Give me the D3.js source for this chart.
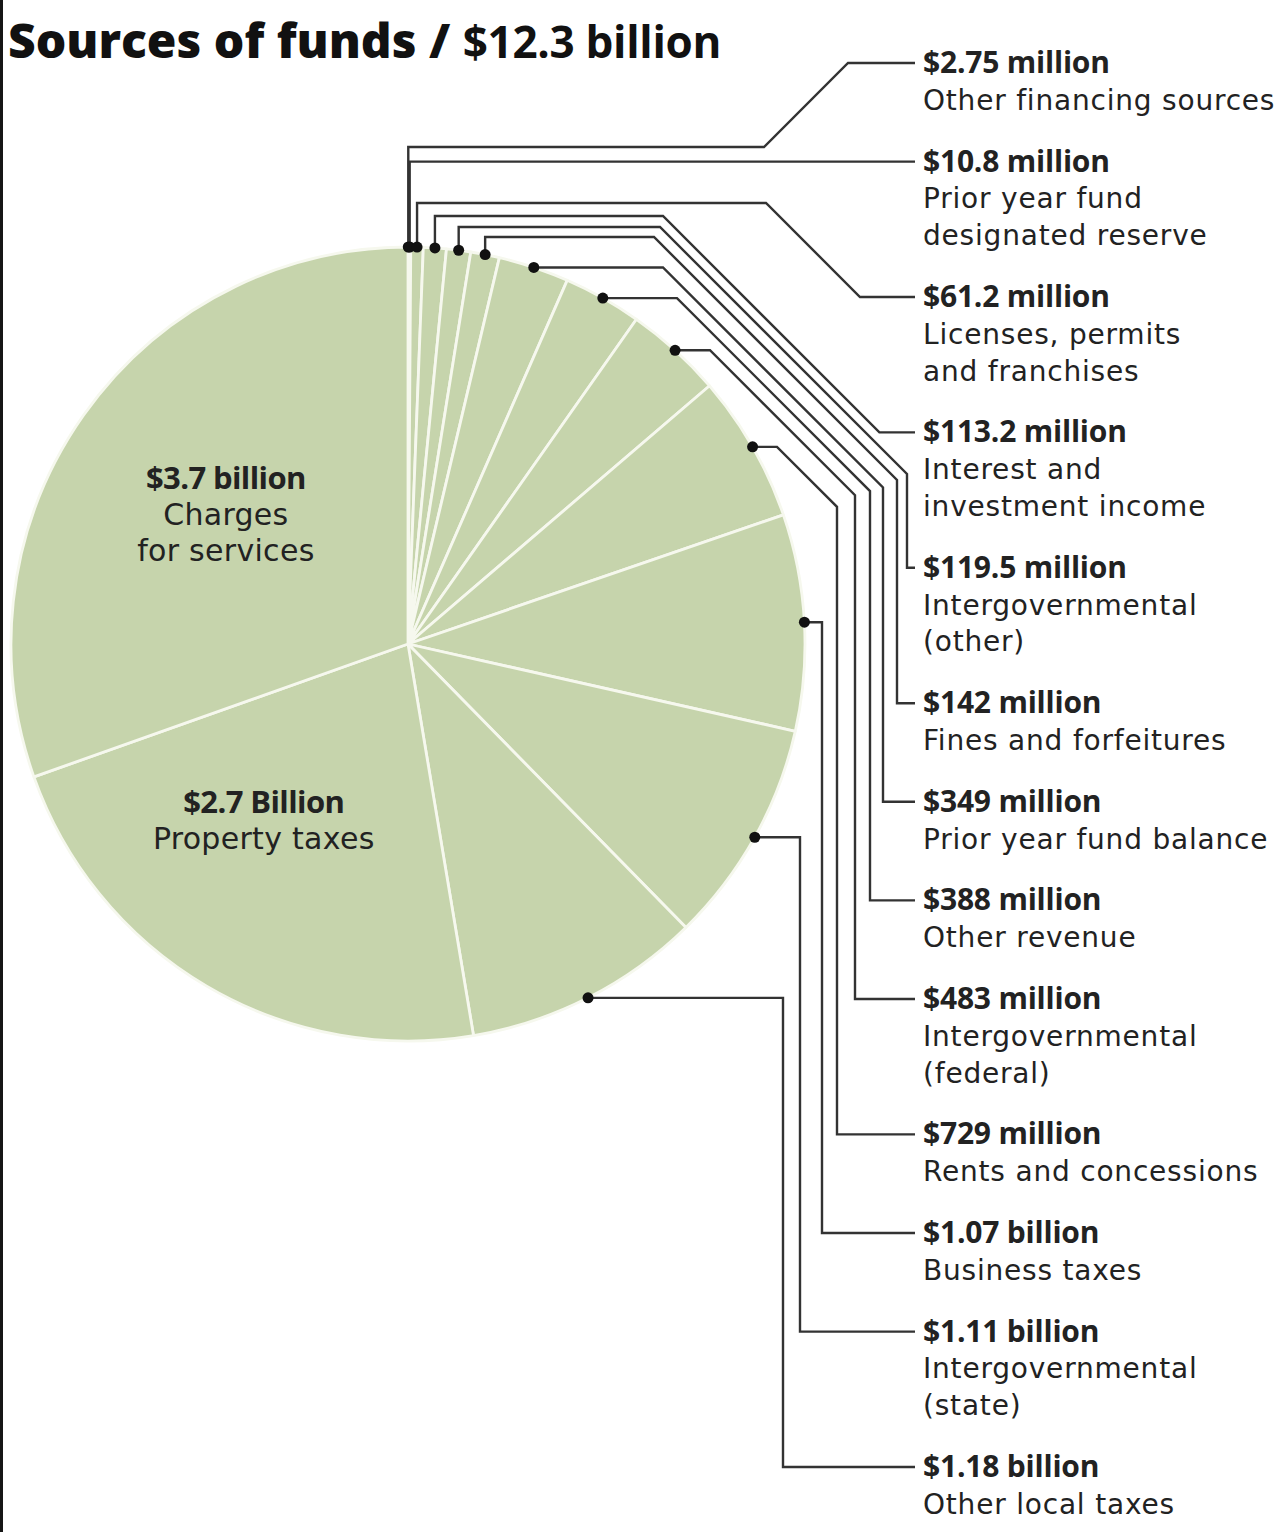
<!DOCTYPE html>
<html>
<head>
<meta charset="utf-8">
<script src="https://cdn.jsdelivr.net/npm/d3@7"></script>
<style>
  body { margin: 0; background: #fff; }
  svg { display: block; }
</style>
</head>
<body>
<div id="chart"></div>
<script>
// values in millions of dollars, clockwise from 12 o'clock
const categories = [
  "Other financing sources", "Prior year fund designated reserve", "Licenses, permits and franchises",
  "Interest and investment income", "Intergovernmental (other)", "Fines and forfeitures",
  "Prior year fund balance", "Other revenue", "Intergovernmental (federal)", "Rents and concessions",
  "Business taxes", "Intergovernmental (state)", "Other local taxes", "Property taxes", "Charges for services"
];
const values = [2.75, 10.8, 61.2, 113.2, 119.5, 142, 349, 388, 483, 729, 1070, 1110, 1180, 2700, 3700];
const valueLabels = [
  "$2.75 million", "$10.8 million", "$61.2 million", "$113.2 million", "$119.5 million",
  "$142 million", "$349 million", "$388 million", "$483 million", "$729 million",
  "$1.07 billion", "$1.11 billion", "$1.18 billion", "$2.7 Billion", "$3.7 billion"
];
const descLines = [
  ["Other financing sources"], ["Prior year fund", "designated reserve"], ["Licenses, permits", "and franchises"],
  ["Interest and", "investment income"], ["Intergovernmental", "(other)"], ["Fines and forfeitures"],
  ["Prior year fund balance"], ["Other revenue"], ["Intergovernmental", "(federal)"], ["Rents and concessions"],
  ["Business taxes"], ["Intergovernmental", "(state)"], ["Other local taxes"], ["Property taxes"], ["Charges", "for services"]
];
const insideCount = 2; // last two slices are labelled inside the pie
const titleBold = "Sources of funds /";
const titleRest = "$12.3 billion";

// leader routing: optional row above the pie, x where the 45° run starts, column of the vertical run
const leaderLayout = [
  {row: 147, turn: 764}, {row: "label"}, {row: 203, turn: 766},
  {row: 216, turn: 663}, {row: 227, turn: 660, col: 907}, {row: 237, turn: 654, col: 897},
  {turn: 663, col: 883}, {turn: 677, col: 870}, {turn: 710, col: 855}, {turn: 777, col: 837},
  {turn: 822, col: 822}, {turn: 800, col: 800}, {turn: 783, col: 783}
];
// nudges for the two inside labels (property taxes, charges for services)
const insideOffsets = [[-20, -34], [18, 12]];

const width = 1283, height = 1532;
const cx = 408, cy = 644, radius = 397;
const labelX = 923, lineEndX = 915;
const firstBaseline = 73, lineH = 36.8, blockGap = 25;
const ink = "#222", lineColor = "#333", fill = "#c6d4ac";
const regular = "'DejaVu Sans', sans-serif";
const boldFont = "'Open Sans', sans-serif";

const svg = d3.select("#chart").append("svg")
  .attr("width", width).attr("height", height);

svg.append("rect").attr("width", width).attr("height", height).attr("fill", "#fff");
svg.append("rect").attr("x", 0).attr("y", 0).attr("width", 3).attr("height", height).attr("fill", "#151515");

// title
const title = svg.append("text")
  .attr("x", 8).attr("y", 58)
  .attr("font-family", boldFont).attr("fill", "#111");
title.append("tspan").attr("font-weight", 800).attr("font-size", 48).attr("letter-spacing", 0).text(titleBold + " ");
title.append("tspan").attr("font-weight", 700).attr("font-size", 44).attr("letter-spacing", -0.3).text(titleRest);

const data = categories.map((c, i) => ({name: c, value: values[i], label: valueLabels[i], desc: descLines[i]}));

const pie = d3.pie().sort(null).value(d => d.value).startAngle(0).endAngle(2 * Math.PI);
const arcs = pie(data);
const arc = d3.arc().innerRadius(0).outerRadius(radius);

const g = svg.append("g").attr("transform", `translate(${cx},${cy})`);
g.selectAll("path.slice")
  .data(arcs)
  .join("path")
  .attr("class", "slice")
  .attr("d", arc)
  .attr("fill", fill)
  .attr("stroke", "#f6f8ee")
  .attr("stroke-width", 2.8)
  .attr("stroke-linejoin", "round");

// inside labels
const labelArc = d3.arc().innerRadius(245).outerRadius(245);
const inside = arcs.slice(arcs.length - insideCount);
inside.forEach((a, k) => {
  const [x, y] = labelArc.centroid(a);
  const off = insideOffsets[k];
  const n = 1 + a.data.desc.length;
  const top = y + off[1] - (n - 1) * 36 / 2 + 10;
  const t = g.append("text")
    .attr("text-anchor", "middle")
    .attr("fill", ink);
  t.append("tspan").attr("x", x + off[0]).attr("y", top)
    .attr("font-family", boldFont).attr("font-weight", 700).attr("font-size", 31).attr("letter-spacing", -0.6)
    .text(a.data.label);
  a.data.desc.forEach((line, j) => {
    t.append("tspan").attr("x", x + off[0]).attr("y", top + 36 * (j + 1))
      .attr("font-family", regular).attr("font-size", 30).attr("letter-spacing", 0.3)
      .text(line);
  });
});

// outside labels and leaders
const outside = arcs.slice(0, arcs.length - insideCount);
let baseline = firstBaseline;
const baselines = outside.map(a => {
  const b = baseline;
  baseline += (1 + a.data.desc.length) * lineH + blockGap;
  return b;
});

const lineGen = d3.line();
outside.forEach((a, i) => {
  const mid = (a.startAngle + a.endAngle) / 2;
  const dx = cx + radius * Math.sin(mid);
  const dy = cy - radius * Math.cos(mid);
  const ly = baselines[i] - 10;
  const L = leaderLayout[i];
  const pts = [[dx, dy]];
  let ry = dy;
  if (L.row === "label") {
    pts.push([dx, ly]);
    ry = ly;
  } else if (L.row != null) {
    pts.push([dx, L.row]);
    ry = L.row;
  }
  if (L.turn != null) {
    pts.push([L.turn, ry]);
    if (L.col != null) {
      const yy = ry + (L.col - L.turn);
      pts.push([L.col, yy]);
      pts.push([L.col, ly]);
    } else {
      pts.push([L.turn + Math.abs(ly - ry), ly]);
    }
  }
  pts.push([lineEndX, ly]);

  svg.append("path")
    .attr("d", lineGen(pts))
    .attr("fill", "none")
    .attr("stroke", lineColor)
    .attr("stroke-width", 2.4)
    .attr("stroke-linejoin", "miter");

  svg.append("circle")
    .attr("cx", dx).attr("cy", dy).attr("r", 5.5)
    .attr("fill", "#111");

  const t = svg.append("text").attr("fill", ink);
  t.append("tspan").attr("x", labelX).attr("y", baselines[i])
    .attr("font-family", boldFont).attr("font-weight", 700).attr("font-size", 30).attr("letter-spacing", -0.2)
    .text(a.data.label);
  a.data.desc.forEach((line, j) => {
    t.append("tspan").attr("x", labelX).attr("y", baselines[i] + lineH * (j + 1))
      .attr("font-family", regular).attr("font-size", 28).attr("letter-spacing", 0.8)
      .text(line);
  });
});
</script>
</body>
</html>
